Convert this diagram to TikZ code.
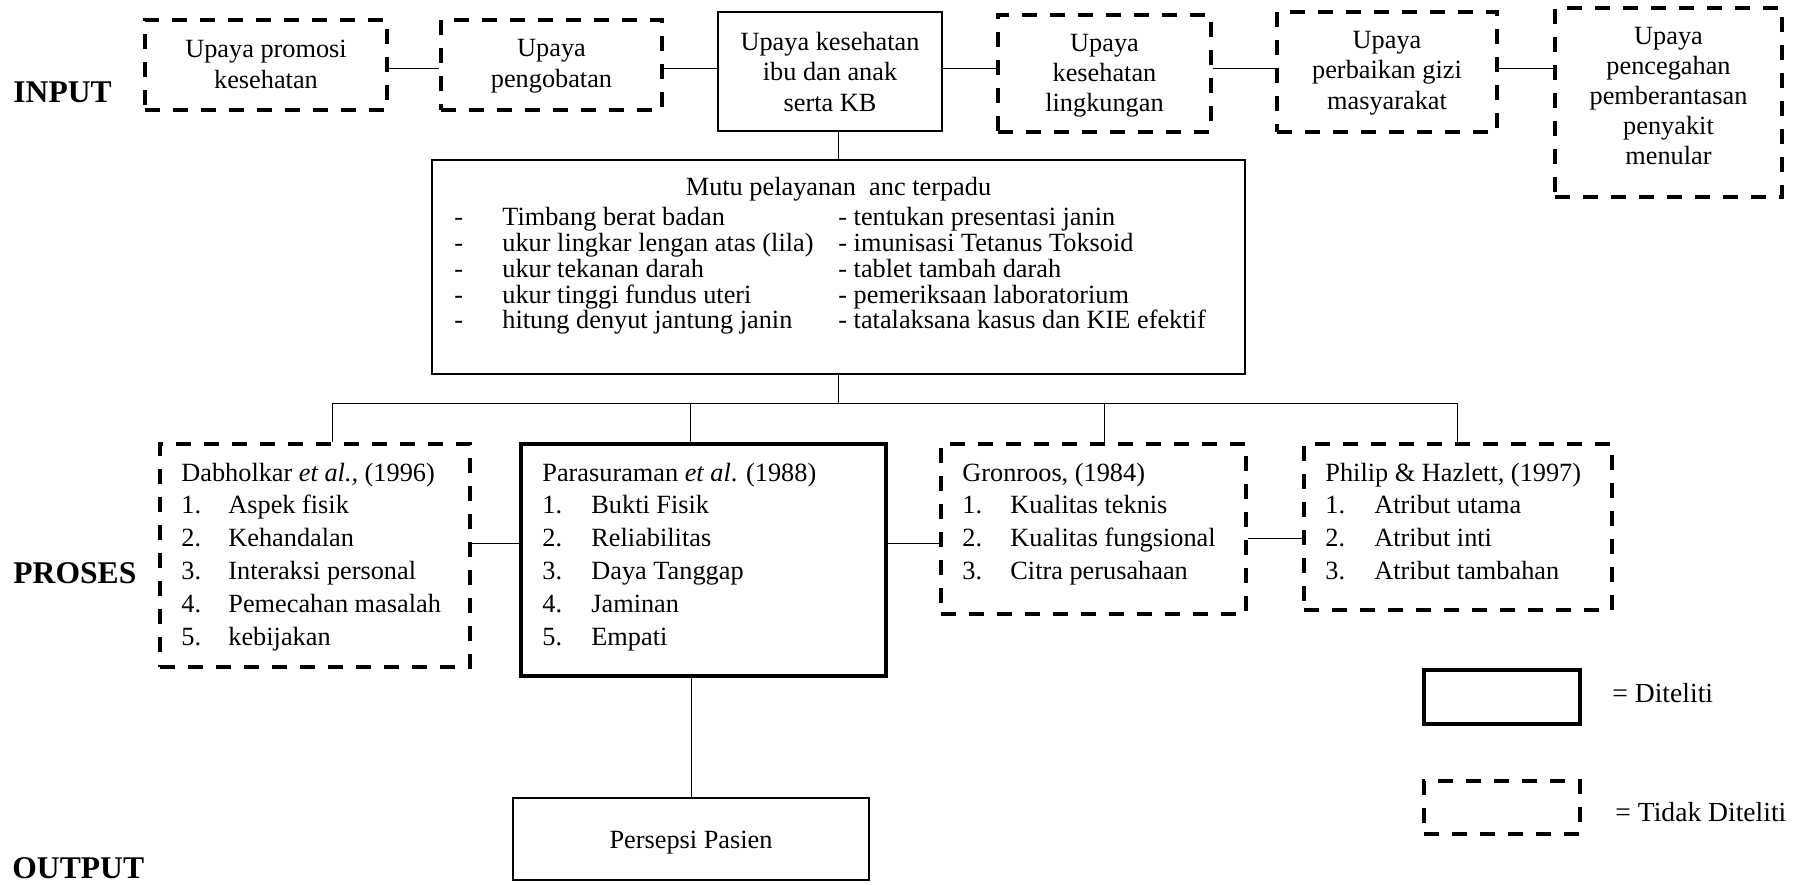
\documentclass[tikz,border=0pt]{standalone}
\usepackage{fontspec}
\setmainfont{Liberation Serif}
\tikzset{
  dbox/.style={draw, line width=1.8pt, dash pattern=on 7.5pt off 6.5pt, inner sep=0pt},
  sbox/.style={draw, line width=1pt, inner sep=0pt},
  conn/.style={line width=0.5pt},
  t/.style={inner sep=0pt, anchor=base, font=\fontsize{13.15}{15}\selectfont},
  tl/.style={t, anchor=base west},
  lab/.style={inner sep=0pt, anchor=base west, font=\fontsize{15.8}{18}\selectfont\bfseries},
  leg/.style={inner sep=0pt, anchor=base west, font=\fontsize{13.8}{16}\selectfont}
}
\begin{document}
\begin{tikzpicture}[x=0.5pt,y=-0.5pt]
\useasboundingbox (0,0) rectangle (1809,884);

% ---------- INPUT row ----------
\node[lab] (lin) at (13,102) {INPUT};
\node[dbox, minimum width=121pt, minimum height=45pt] (b1) at (266,65) {};
\node[t] (b1a) at (266,57) {Upaya promosi};
\node[t] (b1b) at (266,88) {kesehatan};

\node[dbox, minimum width=110.5pt, minimum height=45pt] (b2) at (551.5,65) {};
\node[t] (b2a) at (551.5,56) {Upaya};
\node[t] (b2b) at (551.5,87) {pengobatan};

\node[sbox, minimum width=112pt, minimum height=59.5pt] (b3) at (830,71.5) {};
\node[t] (b3a) at (830,50) {Upaya kesehatan};
\node[t] (b3b) at (830,80) {ibu dan anak};
\node[t] (b3c) at (830,111) {serta KB};

\node[dbox, minimum width=106.5pt, minimum height=58.5pt] (b4) at (1104.5,73.5) {};
\node[t] (b4a) at (1104.5,51) {Upaya};
\node[t] (b4b) at (1104.5,81) {kesehatan};
\node[t] (b4c) at (1104.5,111) {lingkungan};

\node[dbox, minimum width=110pt, minimum height=60pt] (b5) at (1387,72) {};
\node[t] (b5a) at (1387,48) {Upaya};
\node[t] (b5b) at (1387,78) {perbaikan gizi};
\node[t] (b5c) at (1387,109) {masyarakat};

\node[dbox, minimum width=113.5pt, minimum height=94.5pt] (b6) at (1668.5,102.5) {};
\node[t] (b6a) at (1668.5,44) {Upaya};
\node[t] (b6b) at (1668.5,74) {pencegahan};
\node[t] (b6c) at (1668.5,104) {pemberantasan};
\node[t] (b6d) at (1668.5,134) {penyakit};
\node[t] (b6e) at (1668.5,164) {menular};

\coordinate (yt) at (0,68);
\draw[conn] (b1.east |- yt) -- (b2.west |- yt);
\draw[conn] (b2.east |- yt) -- (b3.west |- yt);
\draw[conn] (b3.east |- yt) -- (b4.west |- yt);
\draw[conn] (b4.east |- yt) -- (b5.west |- yt);
\draw[conn] (b5.east |- yt) -- (b6.west |- yt);

% ---------- Mutu box ----------
\node[sbox, line width=1.2pt, minimum width=406.5pt, minimum height=107pt] (mutu) at (838.5,267) {};
\draw[conn] (mutu.north) -- (mutu.north |- b3.south);
\node[t] (m0) at (838.5,195) {Mutu pelayanan\ \ anc terpadu};
\foreach \yy/\txt/\rtxt [count=\i] in {
  225/{Timbang berat badan}/{- tentukan presentasi janin},
  251/{ukur lingkar lengan atas (lila)}/{- imunisasi Tetanus Toksoid},
  277/{ukur tekanan darah}/{- tablet tambah darah},
  303/{ukur tinggi fundus uteri}/{- pemeriksaan laboratorium},
  328/{hitung denyut jantung janin}/{- tatalaksana kasus dan KIE efektif}}{
  \node[tl] (md\i) at (454,\yy) {-};
  \node[tl] (ml\i) at (502,\yy) {\txt};
  \node[tl] (mr\i) at (838,\yy) {\rtxt};
}

% ---------- PROSES row ----------
\node[lab] (lpr) at (13,583) {PROSES};

\node[dbox, minimum width=155pt, minimum height=111.5pt] (dab) at (315,555.5) {};
\node[sbox, line width=2pt, minimum width=182.5pt, minimum height=116pt] (para) at (703.5,560) {};
\node[dbox, minimum width=152.5pt, minimum height=85pt] (gron) at (1093.5,529) {};
\node[dbox, minimum width=154pt, minimum height=83pt] (phil) at (1458,527) {};

\coordinate (bus) at (0,403);
\coordinate (d1) at (332,403);
\coordinate (d2) at (690,403);
\coordinate (d3) at (1104,403);
\coordinate (d4) at (1457,403);
\draw[conn] (mutu.south) -- (mutu.south |- bus);
\draw[conn] (d1) -- (d4);
\draw[conn] (d1) -- (d1 |- dab.north);
\draw[conn] (d2) -- (d2 |- para.north);
\draw[conn] (d3) -- (d3 |- gron.north);
\draw[conn] (d4) -- (d4 |- phil.north);

\coordinate (yp) at (0,543);
\coordinate (yq) at (0,538);
\draw[conn] (dab.east |- yp) -- (para.west |- yp);
\draw[conn] (para.east |- yp) -- (gron.west |- yp);
\draw[conn] (gron.east |- yq) -- (phil.west |- yq);

\node[tl] (dabT) at (181,481) {Dabholkar \textit{et al.,} (1996)};
\foreach \yy/\txt [count=\i] in {513/{Aspek fisik},546/{Kehandalan},579/{Interaksi personal},612/{Pemecahan masalah},645/{kebijakan}}{
  \node[tl] (dabN\i) at (181,\yy) {\i.};
  \node[tl] (dabI\i) at (228,\yy) {\txt};
}
\node[tl] (parT) at (542,481) {Parasuraman \textit{et al}. (1988)};
\foreach \yy/\txt [count=\i] in {513/{Bukti Fisik},546/{Reliabilitas},579/{Daya Tanggap},612/{Jaminan},645/{Empati}}{
  \node[tl] (parN\i) at (542,\yy) {\i.};
  \node[tl] (parI\i) at (591,\yy) {\txt};
}
\node[tl] (groT) at (962,481) {Gronroos, (1984)};
\foreach \yy/\txt [count=\i] in {513/{Kualitas teknis},546/{Kualitas fungsional},579/{Citra perusahaan}}{
  \node[tl] (groN\i) at (962,\yy) {\i.};
  \node[tl] (groI\i) at (1010,\yy) {\txt};
}
\node[tl] (phiT) at (1325,481) {Philip \& Hazlett, (1997)};
\foreach \yy/\txt [count=\i] in {513/{Atribut utama},546/{Atribut inti},579/{Atribut tambahan}}{
  \node[tl] (phiN\i) at (1325,\yy) {\i.};
  \node[tl] (phiI\i) at (1374,\yy) {\txt};
}

% ---------- OUTPUT ----------
\node[lab] (lout) at (12,878) {OUTPUT};
\node[sbox, line width=1.3pt, minimum width=178pt, minimum height=41pt] (pers) at (691,839) {};
\node[t] (perT) at (691,848) {Persepsi Pasien};
\draw[conn] (pers.north) -- (pers.north |- para.south);

% ---------- Legend ----------
\node[sbox, line width=2pt, minimum width=78pt, minimum height=27pt] (legA) at (1502,697) {};
\node[dbox, minimum width=78pt, minimum height=26.5pt] (legB) at (1502,807.5) {};
\node[leg] (legAt) at (1612,702) {= Diteliti};
\node[leg] (legBt) at (1615,821) {= Tidak Diteliti};
\end{tikzpicture}
\end{document}
